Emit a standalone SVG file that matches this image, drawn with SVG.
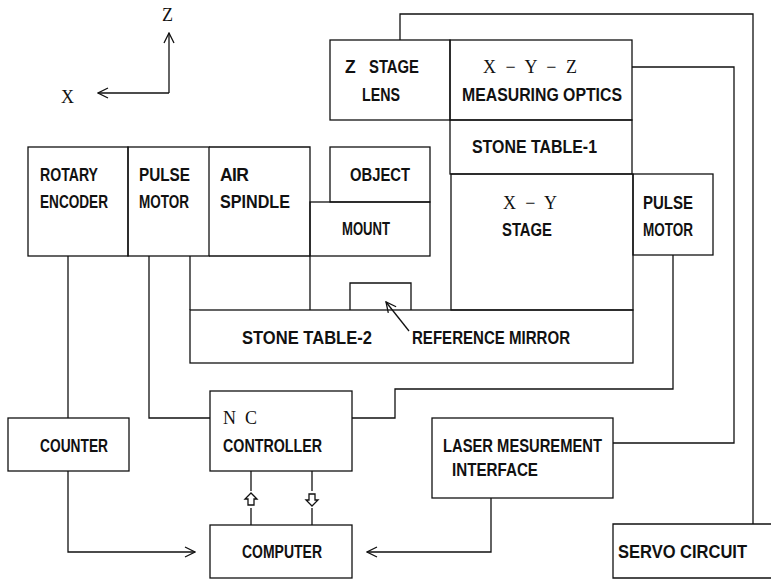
<svg xmlns="http://www.w3.org/2000/svg" width="771" height="580" viewBox="0 0 771 580">
<defs>
<style>
.b{fill:none;stroke:#111;stroke-width:1.3}
.c{fill:none;stroke:#111;stroke-width:1.3}
.t{font-family:"Liberation Sans",Arial,sans-serif;font-size:17.5px;font-weight:bold;fill:#111}
.s{font-family:"Liberation Serif","Times New Roman",serif;font-size:18px;fill:#111}
</style>
<marker id="ah" viewBox="0 0 12 12" refX="11" refY="6" markerWidth="12" markerHeight="12" markerUnits="userSpaceOnUse" orient="auto">
<path d="M1,1 L11,6 L1,11" fill="none" stroke="#111" stroke-width="1.3"/>
</marker>
</defs>
<rect width="771" height="580" fill="#fff"/>

<g id="axes">
<line class="c" x1="169" y1="93" x2="169" y2="33" marker-end="url(#ah)"/>
<line class="c" x1="169" y1="93" x2="98" y2="93" marker-end="url(#ah)"/>
<text class="s" x="162" y="21">Z</text>
<text class="s" x="61" y="103">X</text>
</g>

<g id="connectors">
<polyline class="c" points="400,40 400,14 753,14 753,524"/>
<polyline class="c" points="632,67 734,67 734,443 613,443"/>
<polyline class="c" points="673,255 673,389 395,389 395,418 352,418"/>
<line class="c" x1="68" y1="256" x2="68" y2="418"/>
<polyline class="c" points="149,256 149,418 210,418"/>
<polyline class="c" points="68,471 68,552 195,552" marker-end="url(#ah)"/>
<polyline class="c" points="491,498 491,552 367,552" marker-end="url(#ah)"/>
<line class="c" x1="251" y1="471" x2="251" y2="491"/>
<line class="c" x1="251" y1="508" x2="251" y2="525"/>
<line class="c" x1="312" y1="471" x2="312" y2="491"/>
<line class="c" x1="312" y1="508" x2="312" y2="525"/>
<path class="c" d="M251,493 L257,499 L254,499 L254,505 L248,505 L248,499 L245,499 Z"/>
<path class="c" d="M312,506 L318,500 L315,500 L315,494 L309,494 L309,500 L306,500 Z"/>
<line class="c" x1="409" y1="331" x2="386" y2="302" marker-end="url(#ah)"/>
</g>

<g id="z-stage-lens">
<rect class="b" x="330" y="40" width="120" height="80"/>
<text class="t" y="73"><tspan x="345">Z </tspan><tspan x="369" textLength="50" lengthAdjust="spacingAndGlyphs">STAGE</tspan></text>
<text class="t" x="362" y="101" textLength="38" lengthAdjust="spacingAndGlyphs">LENS</text>
</g>

<g id="measuring-optics">
<rect class="b" x="450" y="40" width="182" height="80"/>
<text class="s" x="483" y="73" textLength="94" lengthAdjust="spacing">X − Y − Z</text>
<text class="t" x="462" y="101" textLength="160" lengthAdjust="spacingAndGlyphs">MEASURING OPTICS</text>
</g>

<g id="stone-table-1">
<rect class="b" x="450" y="120" width="182" height="54"/>
<text class="t" x="472" y="153" textLength="125" lengthAdjust="spacingAndGlyphs">STONE TABLE-1</text>
</g>

<g id="xy-stage">
<rect class="b" x="451" y="174" width="182" height="136"/>
<text class="s" x="503" y="209" textLength="54" lengthAdjust="spacing">X − Y</text>
<text class="t" x="502" y="236" textLength="50" lengthAdjust="spacingAndGlyphs">STAGE</text>
</g>

<g id="pulse-motor-right">
<rect class="b" x="633" y="174" width="80" height="81"/>
<text class="t" x="643" y="209" textLength="50" lengthAdjust="spacingAndGlyphs">PULSE</text>
<text class="t" x="643" y="236" textLength="50" lengthAdjust="spacingAndGlyphs">MOTOR</text>
</g>

<g id="rotary-encoder">
<rect class="b" x="28" y="147" width="100" height="109"/>
<text class="t" x="40" y="181" textLength="58" lengthAdjust="spacingAndGlyphs">ROTARY</text>
<text class="t" x="40" y="208" textLength="68" lengthAdjust="spacingAndGlyphs">ENCODER</text>
</g>

<g id="pulse-motor-left">
<rect class="b" x="128" y="147" width="81" height="109"/>
<text class="t" x="139" y="181" textLength="51" lengthAdjust="spacingAndGlyphs">PULSE</text>
<text class="t" x="139" y="208" textLength="50" lengthAdjust="spacingAndGlyphs">MOTOR</text>
</g>

<g id="air-spindle">
<polyline class="b" points="209,147 310,147 310,310"/>
<line class="b" x1="209" y1="256" x2="310" y2="256"/>
<line class="b" x1="190" y1="256" x2="190" y2="310"/>
<text class="t" x="220" y="181" textLength="29" lengthAdjust="spacing">AIR</text>
<text class="t" x="220" y="208" textLength="70" lengthAdjust="spacingAndGlyphs">SPINDLE</text>
</g>

<g id="object">
<rect class="b" x="330" y="147" width="100" height="55"/>
<text class="t" x="350" y="181" textLength="60" lengthAdjust="spacingAndGlyphs">OBJECT</text>
</g>

<g id="mount">
<rect class="b" x="310" y="202" width="120" height="54"/>
<text class="t" x="342" y="235" textLength="48" lengthAdjust="spacingAndGlyphs">MOUNT</text>
</g>

<g id="stone-table-2">
<rect class="b" x="190" y="310" width="443" height="53"/>
<text class="t" x="242" y="344" textLength="130" lengthAdjust="spacingAndGlyphs">STONE TABLE-2</text>
<text class="t" x="412" y="344" textLength="158" lengthAdjust="spacingAndGlyphs">REFERENCE MIRROR</text>
</g>

<g id="reference-mirror">
<polyline class="b" points="350,310 350,283 411,283 411,310"/>
</g>

<g id="counter">
<rect class="b" x="8" y="418" width="121" height="53"/>
<text class="t" x="40" y="452" textLength="68" lengthAdjust="spacingAndGlyphs">COUNTER</text>
</g>

<g id="nc-controller">
<rect class="b" x="210" y="391" width="142" height="80"/>
<text class="s" x="223" y="424" textLength="34" lengthAdjust="spacing">N C</text>
<text class="t" x="223" y="452" textLength="99" lengthAdjust="spacingAndGlyphs">CONTROLLER</text>
</g>

<g id="laser-interface">
<rect class="b" x="432" y="418" width="181" height="80"/>
<text class="t" x="443" y="452" textLength="159" lengthAdjust="spacingAndGlyphs">LASER MESUREMENT</text>
<text class="t" x="452" y="476" textLength="86" lengthAdjust="spacingAndGlyphs">INTERFACE</text>
</g>

<g id="computer">
<rect class="b" x="210" y="525" width="142" height="53"/>
<text class="t" x="242" y="558" textLength="80" lengthAdjust="spacingAndGlyphs">COMPUTER</text>
</g>

<g id="servo-circuit">
<polyline class="b" points="771,524 613,524 613,578 771,578"/>
<text class="t" x="618" y="558" textLength="129" lengthAdjust="spacingAndGlyphs">SERVO CIRCUIT</text>
</g>
</svg>
